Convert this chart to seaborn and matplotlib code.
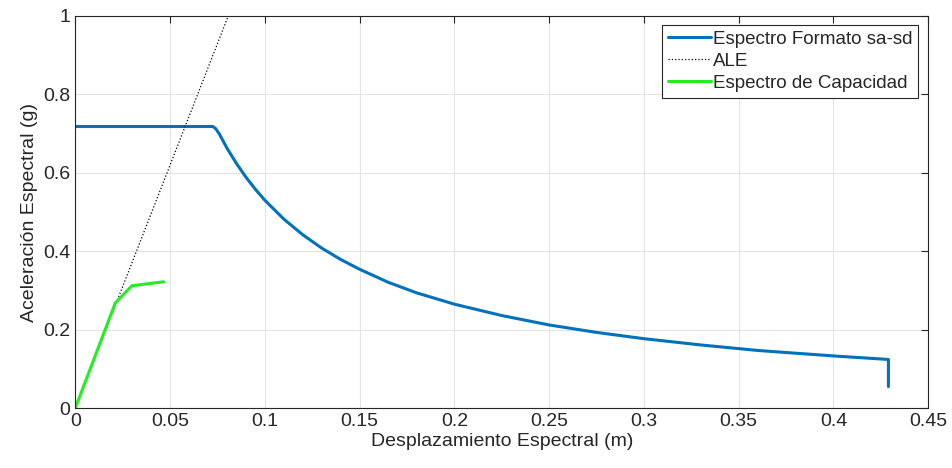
import seaborn as sns
import pandas as pd
import matplotlib.pyplot as plt

# Espectro formato sa-sd
sd_spec = [0, 0.0725, 0.074, 0.076, 0.08, 0.085, 0.09, 0.095, 0.1, 0.11, 0.12, 0.13, 0.14,
           0.15, 0.165, 0.18, 0.2, 0.225, 0.25, 0.275, 0.3, 0.33, 0.36, 0.4, 0.429, 0.429]
sa_spec = [0.718, 0.718, 0.713, 0.699, 0.663, 0.624, 0.589, 0.558, 0.53, 0.482, 0.442, 0.408,
           0.379, 0.354, 0.321, 0.294, 0.265, 0.236, 0.212, 0.193, 0.177, 0.161, 0.147, 0.133,
           0.124, 0.055]

# ALE line
sd_ale = [0, 0.0807]
sa_ale = [0, 1.0]

# Espectro de capacidad
sd_cap = [0, 0.0211, 0.0299, 0.0466]
sa_cap = [0, 0.268, 0.312, 0.322]


def plotData():
    sns.set_style("white")
    plt.rcParams['font.family'] = ['Liberation Sans', 'DejaVu Sans']
    fig, ax = plt.subplots(figsize=(9.53, 4.68), dpi=100)
    fig.subplots_adjust(left=0.079, right=0.974, top=0.966, bottom=0.128)

    spec = pd.DataFrame({'sd': sd_spec, 'sa': sa_spec})
    ale = pd.DataFrame({'sd': sd_ale, 'sa': sa_ale})
    cap = pd.DataFrame({'sd': sd_cap, 'sa': sa_cap})

    sns.lineplot(data=spec, x='sd', y='sa', sort=False, estimator=None, color='#0072BD', lw=2.2,
                 label='Espectro Formato sa-sd', ax=ax)
    sns.lineplot(data=ale, x='sd', y='sa', sort=False, estimator=None, color='black', lw=0.9,
                 ls=':', label='ALE', ax=ax)
    sns.lineplot(data=cap, x='sd', y='sa', sort=False, estimator=None, color='#22ee22', lw=2.2,
                 label='Espectro de Capacidad', ax=ax)

    ax.set_xlim(0, 0.45)
    ax.set_ylim(0, 1)
    ax.set_xticks([0, 0.05, 0.1, 0.15, 0.2, 0.25, 0.3, 0.35, 0.4, 0.45])
    ax.set_xticklabels(['0', '0.05', '0.1', '0.15', '0.2', '0.25', '0.3', '0.35', '0.4', '0.45'])
    ax.set_yticks([0, 0.2, 0.4, 0.6, 0.8, 1])
    ax.set_yticklabels(['0', '0.2', '0.4', '0.6', '0.8', '1'])
    ax.grid(True, color='#e3e3e3', lw=0.8)
    ax.tick_params(direction='in', length=5, labelsize=14, colors='#262626', width=0.8,
                   top=True, right=True)
    for s in ax.spines.values():
        s.set_color('#262626')
        s.set_linewidth(0.8)
    ax.set_xlabel('Desplazamiento Espectral (m)', fontsize=14, color='#262626', labelpad=2)
    ax.set_ylabel('Aceleración Espectral (g)', fontsize=14, color='#262626', labelpad=4)

    leg = ax.legend(loc='upper right', bbox_to_anchor=(0.988, 0.977), fontsize=13.5,
                    frameon=True, fancybox=False, framealpha=1, edgecolor='#262626',
                    handlelength=2.3, handletextpad=0.1, borderpad=0.3, labelspacing=0.27,
                    borderaxespad=0)
    leg.get_frame().set_linewidth(0.8)

    fig.savefig('out.png', dpi=100)


def main():
    plotData()


if __name__ == "__main__":
    main()
